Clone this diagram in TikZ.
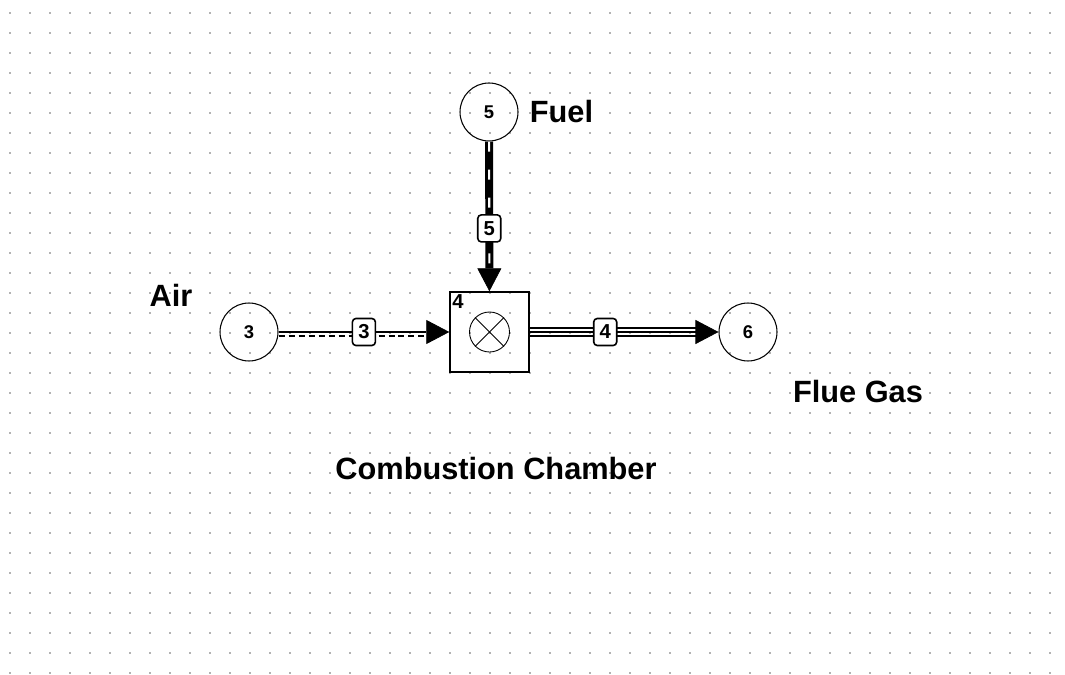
\documentclass[tikz,border=0pt]{standalone}
\usepackage{fontspec}
\setmainfont{Liberation Sans}
\usetikzlibrary{arrows.meta, positioning}
\definecolor{griddot}{RGB}{178,178,178}

\begin{document}
\begin{tikzpicture}[x=0.02cm, y=-0.02cm,
  port/.style={circle, draw, line width=0.6pt, minimum size=1.16cm, inner sep=0pt, font=\bfseries\fontsize{10.5}{12}\selectfont},
  unitbox/.style={draw, line width=0.8pt, minimum width=1.58cm, minimum height=1.6cm, inner sep=0pt},
  tag/.style={draw, fill=white, rounded corners=2pt, line width=0.9pt, minimum width=0.46cm, minimum height=0.54cm, inner sep=0pt, font=\bfseries\fontsize{11.5}{13}\selectfont},
  labeltext/.style={inner sep=0pt, font=\bfseries\fontsize{17.5}{20}\selectfont},
  flowtip/.style={-{Triangle[length=0.46cm, width=0.48cm, line width=0.4pt]}}]
  \useasboundingbox (0,0) rectangle (1065,675);

  % background dot grid
  \foreach \i in {0,...,52}
    \foreach \j in {0,...,33}
      \fill[griddot] (9+20*\i,12+20*\j) rectangle ++(2,2);

  % units and ports
  \node[port] (fuel) at (489,112) {5};
  \node[port] (air) at (249,332) {3};
  \node[unitbox] (cc) at (489.5,332) {};
  \node[port] (out) at (748,332) {6};
  \node[anchor=north west, inner sep=1.5pt, font=\bfseries\fontsize{11.5}{13}\selectfont] (cclbl) at (cc.north west) {4};
  \node[circle, draw, line width=0.5pt, minimum size=0.8cm, inner sep=0pt] (mix) at (cc) {};
  \draw[line width=0.5pt] (mix.north east) -- (mix.south west);
  \draw[line width=0.5pt] (mix.north west) -- (mix.south east);

  % fuel stream
  \draw[line width=4.5pt, flowtip] (fuel) -- (cc);
  \draw[white, line width=1.2pt, dash pattern=on 0.2cm off 0.36cm, shorten >=0.46cm] (fuel) -- (cc);
  \path (fuel) -- node[tag, pos=0.58] (tfuel) {5} (cc);

  % air stream
  \draw[line width=0.8pt, dash pattern=on 0.12cm off 0.08cm] ([yshift=-0.08cm]air.east) -- ([yshift=-0.08cm,xshift=-0.3cm]cc.west);
  \draw[line width=1.6pt, flowtip] (air) -- (cc);
  \path (air) -- node[tag, pos=0.5] (tair) {3} (cc);

  % flue gas stream
  \draw[line width=1.3pt] ([yshift=0.08cm]cc.east) -- ([yshift=0.08cm,xshift=-0.3cm]out.west);
  \draw[line width=1.3pt] ([yshift=-0.08cm]cc.east) -- ([yshift=-0.08cm,xshift=-0.3cm]out.west);
  \draw[line width=1.3pt, flowtip] (cc) -- (out);
  \path (cc.east) -- node[tag, pos=0.4] (tout) {4} (out.west);

  % captions
  \node[labeltext, right=0.22cm of fuel] (fuellbl) {Fuel};
  \node[labeltext] (airlbl) at (171,295) {Air};
  \node[labeltext] (outlbl) at (858,392) {Flue Gas};
  \node[labeltext] (cclabel) at (496,469) {Combustion Chamber};
\end{tikzpicture}
\end{document}
